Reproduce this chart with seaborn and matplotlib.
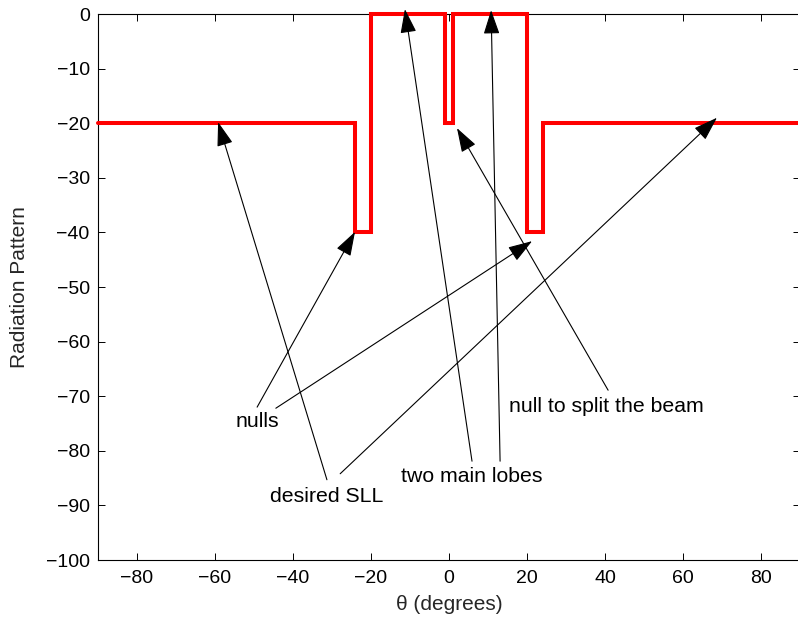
import matplotlib
matplotlib.use("Agg")
import matplotlib.pyplot as plt
import pandas as pd
import seaborn as sns

# Desired radiation pattern mask (dB) as a step function of angle
theta_edges = [-90, -24, -20, -1, 1, 20, 24, 90]
pattern_db = [-20, -40, 0, -20, 0, -40, -20, -20]

x_ticks = [-80, -60, -40, -20, 0, 20, 40, 60, 80]
y_ticks = [0, -10, -20, -30, -40, -50, -60, -70, -80, -90, -100]

# Callout labels: text, text anchor (x, baseline y), list of (arrow tip, arrow tail)
callouts = [
    ("desired SLL", (-31.4, -89.4),
     [((-59.2, -19.8), (-31.3, -85.3)), ((68.7, -19.0), (-27.9, -84.2))]),
    ("nulls", (-49.1, -75.6),
     [((-24.1, -39.9), (-49.2, -72.0)), ((21.3, -41.6), (-44.4, -72.2))]),
    ("two main lobes", (5.8, -85.7),
     [((-11.3, 0.9), (5.9, -81.9)), ((10.8, 0.7), (13.1, -81.9))]),
    ("null to split the beam", (40.3, -72.9),
     [((2.05, -20.9), (40.8, -68.9))]),
]

sns.set_style("ticks")
plt.rcParams["font.family"] = ["Liberation Sans", "DejaVu Sans"]

df = pd.DataFrame({"theta": theta_edges, "pattern": pattern_db})

fig = plt.figure(figsize=(7.98, 6.23), dpi=100)
ax = fig.add_axes([0.1228, 0.1011, 0.8797, 0.8764])

sns.lineplot(data=df, x="theta", y="pattern", ax=ax, color="#ff0000",
             linewidth=2.9, drawstyle="steps-post", sort=False,
             solid_joinstyle="miter", clip_on=False, zorder=4)

ax.set_xlim(-90, 90)
ax.set_ylim(-100, 0)
ax.set_xticks(x_ticks)
ax.set_yticks(y_ticks)
ax.tick_params(direction="in", length=5, width=0.7, top=True, right=True,
               labelsize=14, colors="black")
ax.tick_params(axis="y", pad=6)
ax.tick_params(axis="x", pad=7)
for sp in ax.spines.values():
    sp.set_visible(True)
    sp.set_linewidth(0.8)
    sp.set_color("black")
    sp.set_zorder(2)

ax.set_xlabel("θ (degrees)", fontsize=15, labelpad=6)
ax.set_ylabel("Radiation Pattern", fontsize=15, labelpad=12)

for text, (tx, ty), arrows in callouts:
    ax.text(tx, ty, text, ha="center", va="baseline", fontsize=15.3,
            color="black", zorder=5)
    for tip, tail in arrows:
        ax.annotate("", xy=tip, xytext=tail, xycoords="data",
                    textcoords="data", annotation_clip=False,
                    arrowprops=dict(arrowstyle="-|>,head_length=1.5,head_width=0.5",
                                    mutation_scale=10, color="black",
                                    linewidth=0.8, shrinkA=0, shrinkB=0),
                    zorder=6)

fig.savefig("out.png", dpi=100)
